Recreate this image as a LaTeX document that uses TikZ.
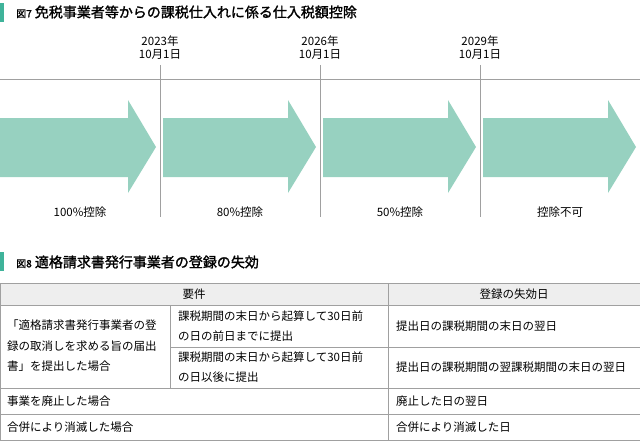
\documentclass[tikz,border=0pt]{standalone}
\usepackage{fontspec}
\setmainfont{Noto Sans CJK JP}
\newfontfamily\jpbold[FakeBold=1.5]{Noto Sans CJK JP}
\usetikzlibrary{positioning}
\definecolor{arrowgreen}{HTML}{97D1C0}
\definecolor{barteal}{HTML}{3FB39A}
\definecolor{rulegray}{HTML}{A0A0A0}
\definecolor{headgray}{HTML}{EEEEEE}
\tikzset{
  title/.style={anchor=west,inner sep=0pt,font=\jpbold\fontsize{14}{16}\selectfont},
  datelabel/.style={align=center,inner sep=0pt,font=\fontsize{11.5}{13}\selectfont},
  ratelabel/.style={inner sep=0pt,font=\fontsize{11.5}{13}\selectfont},
  cell/.style={anchor=west,align=left,inner sep=0pt,font=\fontsize{11.5}{20.5}\selectfont},
  grid/.style={draw=rulegray,line width=0.8pt}
}
\begin{document}
\begin{tikzpicture}[x=1pt,y=-1pt]
  \useasboundingbox (0,0) rectangle (640,444);
  % figure 7
  \fill[barteal] (0,3) rectangle (4,22);
  \node[title] (t7) at (16,12) {{\fontsize{10}{11}\selectfont 図7} 免税事業者等からの課税仕入れに係る仕入税額控除};
  \draw[rulegray,line width=0.8pt] (0,79) -- (640,79);
  \foreach \x/\yr [count=\i] in {160/2023,320/2026,480/2029} {
    \node[datelabel] (d\i) at (\x,48) {\yr 年\\10月1日};
    \draw[rulegray,line width=0.8pt] (\x,65) -- (\x,217);
  }
  \foreach \s/\e [count=\i] in {0/156,163/316,323/476,483/636} {
    \fill[arrowgreen] (\s,118) -- (\e-28,118) -- (\e-28,100) -- (\e,147)
      -- (\e-28,193) -- (\e-28,177) -- (\s,177) -- cycle;
  }
  \foreach \x/\t [count=\i] in {80/100\%控除,240/80\%控除,400/50\%控除,560/控除不可}
    \node[ratelabel] (r\i) at (\x,212) {\t};
  % figure 8
  \fill[barteal] (0,252) rectangle (4,271);
  \node[title] (t8) at (16,262) {{\fontsize{10}{11}\selectfont 図8} 適格請求書発行事業者の登録の失効};
  \fill[headgray] (0,283) rectangle (640,305);
  \draw[grid] (0,283) rectangle (640,440);
  \draw[grid] (0,305) -- (640,305);
  \draw[grid] (170,347) -- (640,347);
  \draw[grid] (0,388) -- (640,388);
  \draw[grid] (0,414) -- (640,414);
  \draw[grid] (388,283) -- (388,440);
  \draw[grid] (170,305) -- (170,388);
  \node[ratelabel] (h1) at (194,294) {要件};
  \node[ratelabel] (h2) at (514,294) {登録の失効日};
  \node[cell] (c1) at (7,346) {「適格請求書発行事業者の登\\録の取消しを求める旨の届出\\書」を提出した場合};
  \node[cell] (c2) at (178,326) {課税期間の末日から起算して30日前\\の日の前日までに提出};
  \node[cell] (c3) at (178,367) {課税期間の末日から起算して30日前\\の日以後に提出};
  \node[cell] (c4) at (7,401) {事業を廃止した場合};
  \node[cell] (c5) at (7,427) {合併により消滅した場合};
  \node[cell] (e1) at (396,326) {提出日の課税期間の末日の翌日};
  \node[cell] (e2) at (396,367) {提出日の課税期間の翌課税期間の末日の翌日};
  \node[cell] (e3) at (396,401) {廃止した日の翌日};
  \node[cell] (e4) at (396,427) {合併により消滅した日};
\end{tikzpicture}
\end{document}
